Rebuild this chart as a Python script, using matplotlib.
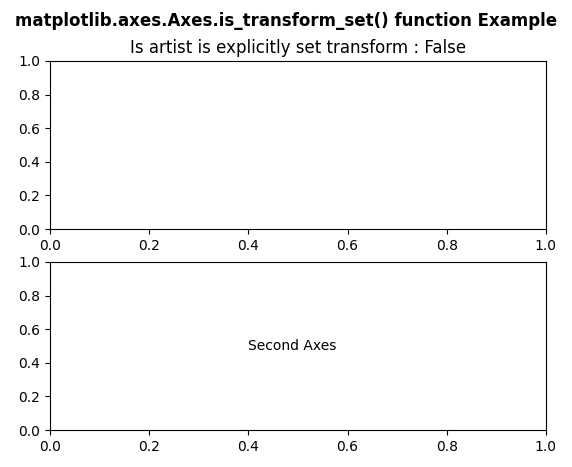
import matplotlib
matplotlib.use('Agg')
import matplotlib.pyplot as plt

suptitle = "matplotlib.axes.Axes.is_transform_set() function Example"
title = "Is artist is explicitly set transform : False"
label_text = "Second Axes"
label_pos = [0.4, 0.5]

fig = plt.figure(figsize=(5.72, 4.67), dpi=100)
ax1 = fig.add_axes([0.0874, 0.5096, 0.867, 0.36])
ax2 = fig.add_axes([0.0874, 0.0792, 0.867, 0.36])

ax2.text(label_pos[0], label_pos[1], label_text, va='center')
ax1.set_title(title)
fig.suptitle(suptitle, fontweight='bold', y=0.975)

fig.savefig("out.png", dpi=100)
